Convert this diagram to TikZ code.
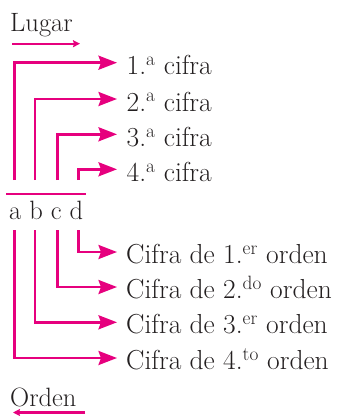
\documentclass[tikz,border=0pt]{standalone}
\usetikzlibrary{arrows.meta,calc}
\definecolor{pinkline}{RGB}{230,0,126}
\definecolor{txt}{RGB}{35,31,32}
\begin{document}
\begin{tikzpicture}[x=1pt,y=-1pt,
  conn/.style={draw=pinkline,line width=2.5pt,-{Stealth[length=18.5pt,width=14pt,inset=2.5pt]}},
  smallarr/.style={draw=pinkline,line width=2.3pt,-{Stealth[length=7pt,width=7pt,inset=1pt]}},
  bar/.style={draw=pinkline,line width=2.3pt},
  lbl/.style={anchor=base west,inner sep=0pt,text=txt,font=\fontsize{26.5}{31}\selectfont},
  rlbl/.style={lbl,font=\fontsize{27.5}{32}\selectfont}]
\useasboundingbox (0,0) rectangle (342,416);
% titles
\node[lbl] (lugar) at (10,31) {Lugar};
\coordinate (la) at (12,43.7);
\coordinate (lb) at (80,43.7);
\draw[smallarr] (la) -- (lb);
\node[lbl] (orden) at (10,406) {Orden};
\coordinate (oa) at (85,412.5);
\coordinate (ob) at (13,412.5);
\draw[smallarr] (oa) -- (ob);
% letters
\node[lbl] (abcd) at (9,219.5) {a b c d};
\coordinate (ba) at (6,194.3);
\coordinate (bb) at (86,194.3);
\draw[bar] (ba) -- (bb);
% upper
\coordinate (u1) at (14.3,180);
\coordinate (u2) at (35,180);
\coordinate (u3) at (57.3,180);
\coordinate (u4) at (78.3,180);
\coordinate (t1) at (117,62.7);
\coordinate (t2) at (117,99);
\coordinate (t3) at (117,134.3);
\coordinate (t4) at (117,169.3);
\draw[conn] (u1) |- (t1);
\draw[conn] (u2) |- (t2);
\draw[conn] (u3) |- (t3);
\draw[conn] (u4) |- (t4);
\node[rlbl] (c1) at ($(t1)+(9.5,12)$) {1.\textsuperscript{a} cifra};
\node[rlbl] (c2) at ($(t2)+(9.5,12)$) {2.\textsuperscript{a} cifra};
\node[rlbl] (c3) at ($(t3)+(9.5,12)$) {3.\textsuperscript{a} cifra};
\node[rlbl] (c4) at ($(t4)+(9.5,12)$) {4.\textsuperscript{a} cifra};
% lower
\coordinate (d1) at (78.3,230);
\coordinate (d2) at (57.3,230);
\coordinate (d3) at (35,230);
\coordinate (d4) at (14.3,230);
\coordinate (e1) at (117,252);
\coordinate (e2) at (117,287);
\coordinate (e3) at (117,322.3);
\coordinate (e4) at (117,358);
\draw[conn] (d1) |- (e1);
\draw[conn] (d2) |- (e2);
\draw[conn] (d3) |- (e3);
\draw[conn] (d4) |- (e4);
\node[rlbl] (o1) at ($(e1)+(9,11.2)$) {Cifra de 1.\textsuperscript{er} orden};
\node[rlbl] (o2) at ($(e2)+(9,11.2)$) {Cifra de 2.\textsuperscript{do} orden};
\node[rlbl] (o3) at ($(e3)+(9,11.2)$) {Cifra de 3.\textsuperscript{er} orden};
\node[rlbl] (o4) at ($(e4)+(9,11.2)$) {Cifra de 4.\textsuperscript{to} orden};
\end{tikzpicture}
\end{document}
